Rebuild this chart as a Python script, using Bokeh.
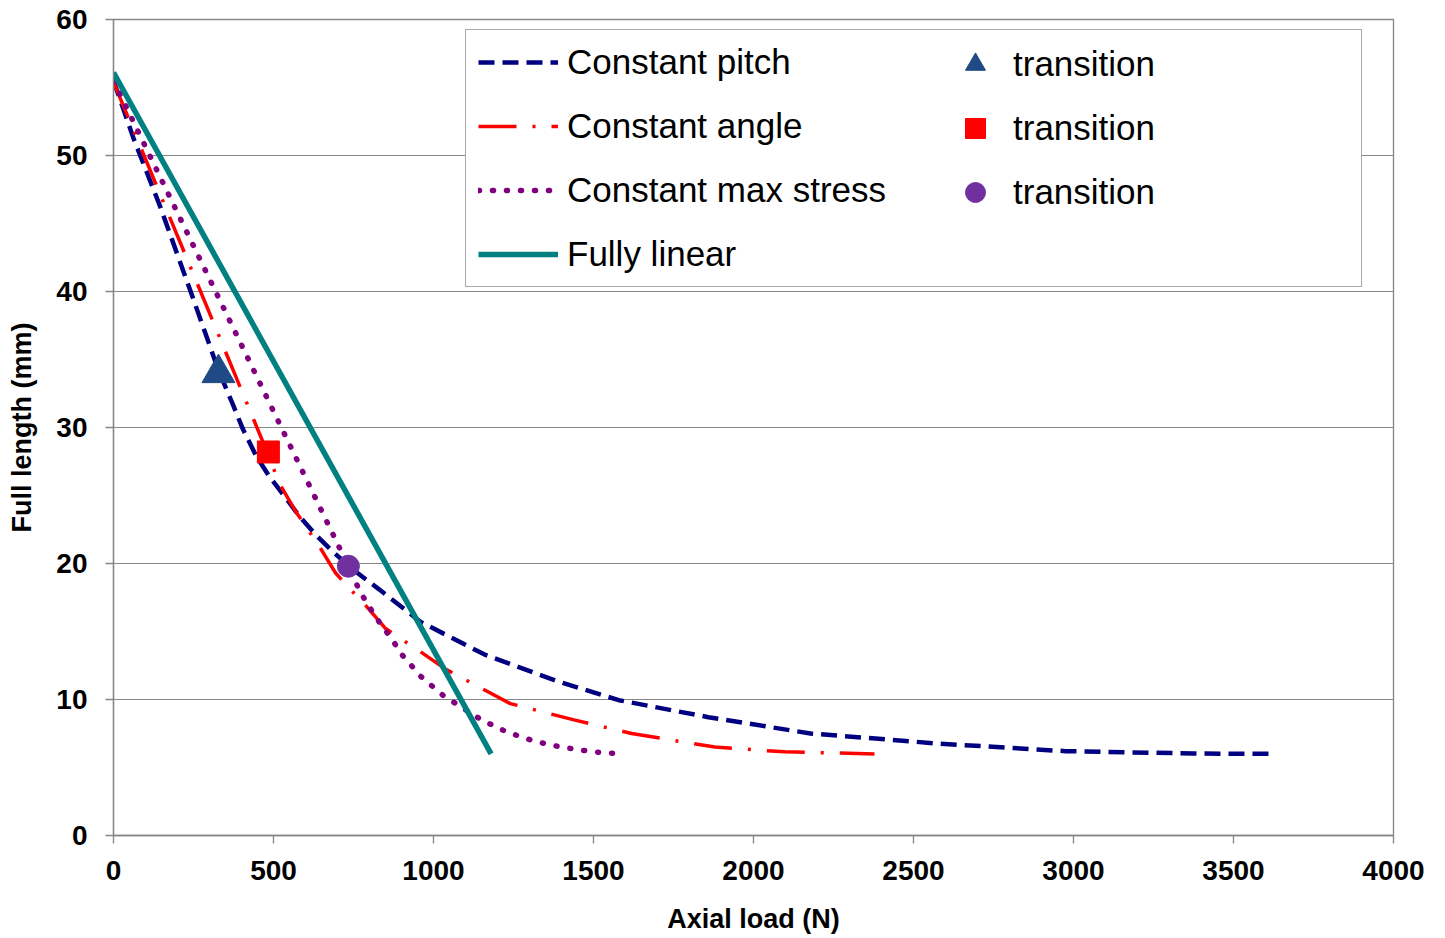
from bokeh.plotting import figure
from bokeh.models import Range1d, FixedTicker, Legend, LegendItem
from bokeh.embed import file_html
from bokeh.resources import INLINE

# ---- data ----
pitch_load = [0, 62, 145, 238, 328, 373, 404, 446, 487, 539, 580, 632, 684, 746, 830,
              960, 1160, 1380, 1579, 1859, 2178, 2577, 2976, 3375, 3625]
pitch_len = [55.5, 51.3, 46.3, 40.2, 34.2, 31.7, 29.9, 27.9, 26.4, 24.8, 23.5, 22.1, 20.9, 19.6, 18.1,
             15.7, 13.3, 11.4, 9.95, 8.7, 7.5, 6.76, 6.2, 6.03, 6.0]

angle_load = [0, 228, 480, 518, 570, 642, 694, 736, 781, 851, 960, 1040, 1160, 1240,
              1439, 1619, 1879, 2098, 2378]
angle_len = [55.4, 42.5, 28.2, 25.9, 23.8, 21.3, 19.3, 18.2, 17.1, 15.2, 13.5, 12.2, 10.7, 9.7,
             8.5, 7.5, 6.5, 6.15, 6.0]

stress_load = [0, 352, 734, 771, 821, 871, 901, 931, 960, 1000, 1030, 1070, 1150, 1230,
               1320, 1400, 1499, 1589]
stress_len = [55.5, 38.4, 19.8, 17.9, 16.0, 14.4, 13.3, 12.5, 11.7, 10.9, 10.3, 9.7, 8.5, 7.6,
              6.9, 6.5, 6.15, 6.0]

linear_load = [0, 1180]
linear_len = [56.1, 6.0]

tri_load, tri_len = [328], [34.0]
sq_load, sq_len = [484], [28.2]
circ_load, circ_len = [734], [19.8]

x_ticks = [0, 500, 1000, 1500, 2000, 2500, 3000, 3500, 4000]
y_ticks = [0, 10, 20, 30, 40, 50, 60]

FONT = "Liberation Sans"
GRAY = "#868686"

p = figure(width=1440, height=936, output_backend="svg", toolbar_location=None,
           x_range=Range1d(0, 4000), y_range=Range1d(0, 60),
           min_border_left=113, min_border_right=47, min_border_top=19, min_border_bottom=101)

p.background_fill_color = "white"
p.border_fill_color = "white"
p.outline_line_color = GRAY
p.outline_line_width = 1.3

p.xgrid.visible = False
p.ygrid.grid_line_color = GRAY
p.ygrid.grid_line_width = 1.2
p.ygrid.ticker = FixedTicker(ticks=y_ticks)

p.xaxis.ticker = FixedTicker(ticks=x_ticks)
p.yaxis.ticker = FixedTicker(ticks=y_ticks)

for ax in (p.xaxis[0], p.yaxis[0]):
    ax.axis_line_color = GRAY
    ax.axis_line_width = 1.3
    ax.major_tick_line_color = GRAY
    ax.major_tick_line_width = 1.3
    ax.major_tick_out = 8
    ax.major_tick_in = 0
    ax.minor_tick_out = 0
    ax.minor_tick_in = 0
    ax.major_label_text_font = FONT
    ax.major_label_text_font_size = "28px"
    ax.major_label_text_font_style = "bold"
    ax.major_label_text_color = "black"
    ax.axis_label_text_font = FONT
    ax.axis_label_text_font_size = "27px"
    ax.axis_label_text_font_style = "bold"
    ax.axis_label_text_color = "black"

p.xaxis.axis_label = "Axial load (N)"
p.yaxis.axis_label = "Full length (mm)"
p.xaxis.major_label_standoff = 17
p.yaxis.major_label_standoff = 18
p.xaxis.axis_label_standoff = 21
p.yaxis.axis_label_standoff = 16

r_pitch = p.line(pitch_load, pitch_len, line_color="#000080", line_width=4.5, line_dash="16 8")
r_angle = p.line(angle_load, angle_len, line_color="#FF0000", line_width=3.5, line_dash="38 16 3 16")
r_stress = p.line(stress_load, stress_len, line_color="#800080", line_width=5.5, line_dash="1 13",
                  line_cap="round")
r_linear = p.line(linear_load, linear_len, line_color="#008080", line_width=5.5)

r_tri = p.scatter(tri_load, tri_len, marker="triangle", size=33, fill_color="#1F4A86",
                  line_color="#1F4A86")
r_sq = p.scatter(sq_load, sq_len, marker="square", size=22, fill_color="#FF0000",
                 line_color="#FF0000")
r_circ = p.scatter(circ_load, circ_len, marker="circle", size=22, fill_color="#7030A0",
                   line_color="#7030A0")

leg1 = Legend(items=[
    LegendItem(label="Constant pitch", renderers=[r_pitch]),
    LegendItem(label="Constant angle", renderers=[r_angle]),
    LegendItem(label="Constant max stress", renderers=[r_stress]),
    LegendItem(label="Fully linear", renderers=[r_linear]),
], location=(352, 548), margin=0, padding=12, spacing=24,
    glyph_width=80, glyph_height=40, label_height=40, label_width=782, label_standoff=9,
    label_text_font=FONT, label_text_font_size="35px", label_text_color="black",
    border_line_color="#555555", border_line_width=1.3, background_fill_color="white",
    background_fill_alpha=1.0)

leg2 = Legend(items=[
    LegendItem(label="transition", renderers=[r_tri]),
    LegendItem(label="transition", renderers=[r_sq]),
    LegendItem(label="transition", renderers=[r_circ]),
], location=(837, 618), margin=0, padding=0, spacing=14,
    glyph_width=50, glyph_height=50, label_height=50, label_standoff=13,
    label_text_font=FONT, label_text_font_size="35px", label_text_color="black",
    border_line_color=None, background_fill_alpha=0.0)

p.add_layout(leg1)
p.add_layout(leg2)

open("out.html", "w").write(file_html(p, INLINE))
